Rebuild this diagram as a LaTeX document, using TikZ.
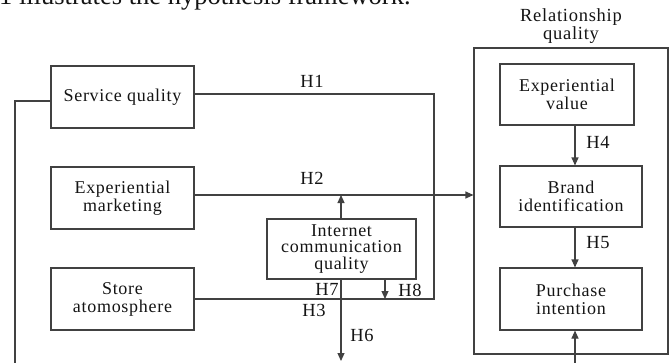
\documentclass[tikz,border=0pt]{standalone}
\usepackage{fontspec}
\setmainfont{Liberation Serif}[LetterSpace=4.0]
\newfontfamily\plainserif{Liberation Serif}
\usetikzlibrary{arrows.meta}
\definecolor{lncol}{RGB}{65,65,65}
\definecolor{txcol}{RGB}{20,20,20}
\begin{document}
\begin{tikzpicture}[x=1pt,y=-1pt,
  box/.style={draw=lncol,line width=1.1pt,align=center,inner sep=0pt,text=txcol,font=\fontsize{18}{18}\selectfont},
  conn/.style={draw=lncol,line width=1.1pt},
  arr/.style={conn,-{Triangle[length=8pt,width=7pt]}},
  hlab/.style={text=txcol,font=\fontsize{18.5}{18}\selectfont,inner sep=0pt}]
\useasboundingbox (0,0) rectangle (669,362);
\begin{scope}
\clip (0,0) rectangle (669,362);
\node[anchor=base west,inner sep=0pt,text=txcol,font=\plainserif\fontsize{26.5}{28}\selectfont] (intro) at (-1,4) {1 illustrates the hypothesis framework.};
\end{scope}
% boxes
\node[box,minimum width=143pt,minimum height=62pt] (sq) at (122.5,97) {Service quality};
\node[box,minimum width=143pt,minimum height=62pt] (em) at (122.5,198) {Experiential\\marketing};
\node[box,minimum width=143pt,minimum height=62pt] (sa) at (122.5,299) {Store\\atomosphere};
\node[box,minimum width=194pt,minimum height=306pt] (rq) at (571,201) {};
\node[hlab,align=center,font=\fontsize{18.5}{18.5}\selectfont,anchor=south] (rqlab) at (571,44) {Relationship\\quality};
\node[box,minimum width=134pt,minimum height=61pt] (ev) at (567,94.5) {Experiential\\value};
\node[box,minimum width=142pt,minimum height=61pt] (bi) at (571,196.5) {Brand\\identification};
\node[box,minimum width=142pt,minimum height=62pt] (pi) at (571,299) {Purchase\\intention};
\node[box,minimum width=149pt,minimum height=60pt,font=\fontsize{18}{16.5}\selectfont] (icq) at (341.5,249) {Internet\\communication\\quality};
% free ends
\coordinate (lbot) at (15,363);
\coordinate (h6end) at (341,361);
\coordinate (pibot) at (575,363);
\coordinate (h2tip) at (341,195);
\coordinate (corner1) at (434,94);
\coordinate (corner2) at (434,299);
% connectors
\draw[conn] (sq.west |- 0,101) -| (lbot);
\draw[conn] (sq.east |- 0,94) -- (corner1) -- (corner2) -- (sa.east);
\draw[arr] (em.east |- 0,195) -- (rq.west |- 0,195);
\draw[arr] (icq.north -| h2tip) -- (h2tip);
\draw[arr] (icq.south -| h6end) -- (h6end);
\draw[arr] (icq.south -| 385,0) -- (385,299);
\draw[arr] (ev.south -| 575,0) -- (bi.north -| 575,0);
\draw[arr] (bi.south -| 575,0) -- (pi.north -| 575,0);
\draw[arr] (pibot) -- (pi.south -| pibot);
% labels
\node[hlab] (l1) at (312,81) {H1};
\node[hlab] (l2) at (312,178) {H2};
\node[hlab] (l3) at (314,310) {H3};
\node[hlab] (l7) at (327,289) {H7};
\node[hlab] (l8) at (410,290) {H8};
\node[hlab] (l6) at (362,335) {H6};
\node[hlab] (l4) at (598,142) {H4};
\node[hlab] (l5) at (598,243) {H5};
\end{tikzpicture}
\end{document}
